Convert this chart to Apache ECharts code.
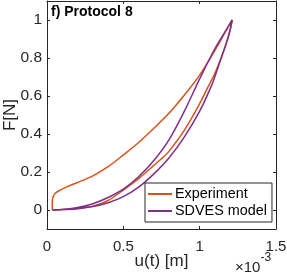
<!DOCTYPE html>
<html>
<head>
<meta charset="utf-8">
<script src="https://cdn.jsdelivr.net/npm/echarts@6/dist/echarts.min.js"></script>
<style>
html,body{margin:0;padding:0;background:#fff;}
#c{width:287px;height:278px;}
</style>
</head>
<body>
<div id="c"></div>
<script>
// Displacement u(t) in units of 1e-3 m, force F in N (closed hysteresis loops)
const expU = [0.035,0.034,0.037,0.05,0.075,0.13,0.2,0.3,0.4,0.5,0.6,0.7,0.8,0.9,1.0,1.1,1.17,1.213,
              1.2,1.175,1.145,1.1,1.05,1.0,0.9,0.8,0.75,0.7,0.6,0.5,0.4,0.3,0.2,0.1,0.035];
const expF = [0,0.03,0.06,0.085,0.10,0.122,0.145,0.18,0.228,0.29,0.355,0.43,0.51,0.605,0.71,0.84,0.94,1.0,
              0.95,0.88,0.81,0.72,0.64,0.56,0.42,0.31,0.27,0.235,0.165,0.105,0.05,0.02,0.008,0.002,0];
const sdvU = [0.035,0.1,0.2,0.3,0.4,0.5,0.6,0.7,0.8,0.9,1.0,1.1,1.16,1.213,
              1.2,1.18,1.15,1.12,1.08,1.0,0.9,0.8,0.7,0.6,0.5,0.4,0.3,0.2,0.1,0.035];
const sdvF = [0,0.003,0.013,0.033,0.066,0.11,0.175,0.26,0.37,0.52,0.69,0.85,0.93,1.0,
              0.95,0.89,0.82,0.75,0.66,0.52,0.385,0.275,0.19,0.12,0.07,0.038,0.018,0.007,0.002,0];
const xTicks = [0,0.5,1,1.5];
const yTicks = [0,0.2,0.4,0.6,0.8,1];
const seriesNames = ['Experiment','SDVES model'];
const titleText = 'f) Protocol 8';

const pairs = (u,f)=>u.map((v,i)=>[v,f[i]]);
const axisCol = '#262626';
const FONT = 'Liberation Sans';

const chart = echarts.init(document.getElementById('c'), null, {renderer:'canvas'});
const baseX = {
  type:'value', min:0, max:1.5, interval:0.5,
  axisLine:{show:true, onZero:false, lineStyle:{color:axisCol, width:1}},
  axisTick:{show:true, inside:true, length:3, lineStyle:{color:axisCol}},
  splitLine:{show:false}
};
const baseY = {
  type:'value', min:-0.1, max:1.1,
  axisLine:{show:true, onZero:false, lineStyle:{color:axisCol, width:1}},
  axisTick:{show:true, inside:true, length:3, customValues:yTicks, lineStyle:{color:axisCol}},
  splitLine:{show:false}
};
chart.setOption({
  animation:false,
  backgroundColor:'#fff',
  grid:{left:47, right:11, top:1, bottom:49, containLabel:false, outerBoundsMode:'none'},
  xAxis:[
    Object.assign({}, baseX, {position:'bottom',
      axisLabel:{show:true, color:axisCol, fontFamily:FONT, fontSize:15, margin:10,
        customValues:xTicks, formatter:v=>String(v)},
      name:'u(t) [m]', nameLocation:'middle', nameGap:24, nameMoveOverlap:false,
      nameTextStyle:{color:axisCol, fontFamily:FONT, fontSize:17}}),
    Object.assign({}, baseX, {position:'top', axisLabel:{show:false}})
  ],
  yAxis:[
    Object.assign({}, baseY, {position:'left',
      axisLabel:{show:true, color:axisCol, fontFamily:FONT, fontSize:15.5, margin:5,
        customValues:yTicks, formatter:v=>String(Math.round(v*10)/10)},
      name:'F[N]', nameLocation:'middle', nameGap:28, nameMoveOverlap:false,
      nameTextStyle:{color:axisCol, fontFamily:FONT, fontSize:17}}),
    Object.assign({}, baseY, {position:'right', axisLabel:{show:false}})
  ],
  legend:{
    data:seriesNames, orient:'vertical', left:145, top:183,
    icon:'rect', itemWidth:24, itemHeight:2, itemGap:1,
    padding:[3,5,3,3],
    backgroundColor:'#fff', borderColor:axisCol, borderWidth:1,
    textStyle:{color:'#000', fontFamily:FONT, fontSize:14.4, lineHeight:16, padding:[0,0,0,-2]}
  },
  graphic:[
    {type:'text', left:51, top:5, style:{text:titleText, font:'bold 14px "Liberation Sans"', fill:'#000'}},
    {type:'text', left:235, top:252, style:{
      text:'{a|×10}{b|-3}',
      rich:{a:{fontFamily:FONT, fontSize:15, fill:axisCol, padding:[8,0,0,0]},
            b:{fontFamily:FONT, fontSize:12, fill:axisCol, verticalAlign:'top', padding:[0,0,10,0]}}}}
  ],
  series:[
    {name:seriesNames[0], type:'line', data:pairs(expU,expF), smooth:0.3, symbol:'none',
     lineStyle:{color:'#D95319', width:1.5}, itemStyle:{color:'#D95319'}, z:2},
    {name:seriesNames[1], type:'line', data:pairs(sdvU,sdvF), smooth:0.3, symbol:'none',
     lineStyle:{color:'#7E2F8E', width:1.5}, itemStyle:{color:'#7E2F8E'}, z:3}
  ]
});
</script>
</body>
</html>
